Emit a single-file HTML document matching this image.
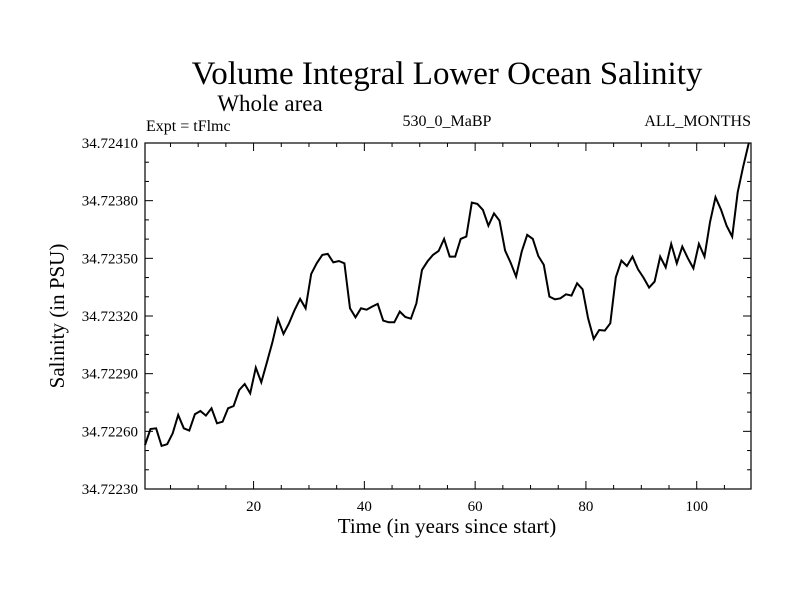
<!DOCTYPE html>
<html><head><meta charset="utf-8"><style>
body{margin:0;background:#fff}
svg{display:block;font-family:"Liberation Serif",serif}
</style></head><body>
<svg id="chart" width="800" height="600" viewBox="0 0 800 600">
<rect width="800" height="600" fill="#fff"/>
<text x="447" y="84" font-size="33" text-anchor="middle">Volume Integral Lower Ocean Salinity</text>
<text x="270" y="111" font-size="23" text-anchor="middle">Whole area</text>
<text x="146" y="131" font-size="16">Expt = tFlmc</text>
<text x="447" y="126" font-size="16" text-anchor="middle">530_0_MaBP</text>
<text x="751" y="126" font-size="16" text-anchor="end">ALL_MONTHS</text>
<text x="447" y="533" font-size="21" text-anchor="middle">Time (in years since start)</text>
<text transform="translate(64,316) rotate(-90)" font-size="21" text-anchor="middle">Salinity (in PSU)</text>
<g id="axes"></g>
<path id="line" fill="none" stroke="#000" stroke-width="2"/>
<rect x="145" y="143" width="606" height="346" fill="none" stroke="#000" stroke-width="1.2"/>
</svg>
<script>
const values = [34.722529,34.722612,34.722616,34.722524,34.722533,34.722590,34.722685,34.722616,34.722604,34.722689,34.722706,34.722682,34.722720,34.722642,34.722650,34.722720,34.722732,34.722815,34.722846,34.722798,34.722931,34.722855,34.722959,34.723063,34.723185,34.723107,34.723162,34.723231,34.723289,34.723240,34.723419,34.723474,34.723518,34.723523,34.723479,34.723486,34.723474,34.723240,34.723193,34.723240,34.723233,34.723249,34.723263,34.723176,34.723167,34.723167,34.723223,34.723195,34.723186,34.723266,34.723440,34.723484,34.723518,34.723538,34.723601,34.723509,34.723509,34.723601,34.723613,34.723790,34.723783,34.723752,34.723670,34.723734,34.723696,34.723540,34.723478,34.723405,34.723535,34.723622,34.723601,34.723512,34.723466,34.723301,34.723287,34.723292,34.723313,34.723306,34.723370,34.723339,34.723188,34.723081,34.723127,34.723124,34.723162,34.723401,34.723488,34.723460,34.723509,34.723443,34.723400,34.723348,34.723379,34.723509,34.723453,34.723575,34.723474,34.723561,34.723500,34.723448,34.723575,34.723509,34.723688,34.723818,34.723752,34.723670,34.723613,34.723844,34.723977,34.724110];
const yTicks = [34.72230,34.72260,34.72290,34.72320,34.72350,34.72380,34.72410];
const xTicks = [20,40,60,80,100];
const X0=145,X1=751,Y0=143,Y1=489;
const xMin=0.4,xMax=109.8,yMin=34.72230,yMax=34.72410;
const sx=t=>X0+(t-xMin)/(xMax-xMin)*(X1-X0);
const sy=v=>Y1-(Math.min(v,yMax)-yMin)/(yMax-yMin)*(Y1-Y0);
const NS="http://www.w3.org/2000/svg";
const g=document.getElementById('axes');
function ln(x1,y1,x2,y2,name){const l=document.createElementNS(NS,'line');
l.setAttribute('x1',x1);l.setAttribute('y1',y1);l.setAttribute('x2',x2);l.setAttribute('y2',y2);
l.setAttribute('stroke','#000');l.setAttribute('stroke-width','1');


g.appendChild(l);}
function tx(x,y,s,anchor,name){const t=document.createElementNS(NS,'text');
t.setAttribute('x',x);t.setAttribute('y',y);t.setAttribute('font-size','15');t.setAttribute('text-anchor',anchor);t.textContent=s;


g.appendChild(t);}
for(let v=5;v<=105;v+=5){const x=sx(v);const L=(v%20===0)?8:4;ln(x,Y1,x,Y1-L,'x-tick');ln(x,Y0,x,Y0+L,'x-tick-top');}
xTicks.forEach(v=>tx(sx(v),511,String(v),'middle','x-tick-label'));
for(let k=0;k<=18;k++){const v=yMin+k*0.00010;const y=sy(v);const L=(k%3===0)?8:4;ln(X0,y,X0+L,y,'y-tick');ln(X1,y,X1-L,y,'y-tick-right');}
yTicks.forEach(v=>tx(138,sy(v)+5,v.toFixed(5),'end','y-tick-label'));
let d='';values.forEach((v,i)=>{d+=(i?'L':'M')+sx(xMin+i).toFixed(1)+','+sy(v).toFixed(1);});
document.getElementById('line').setAttribute('d',d);
</script>
</body></html>
